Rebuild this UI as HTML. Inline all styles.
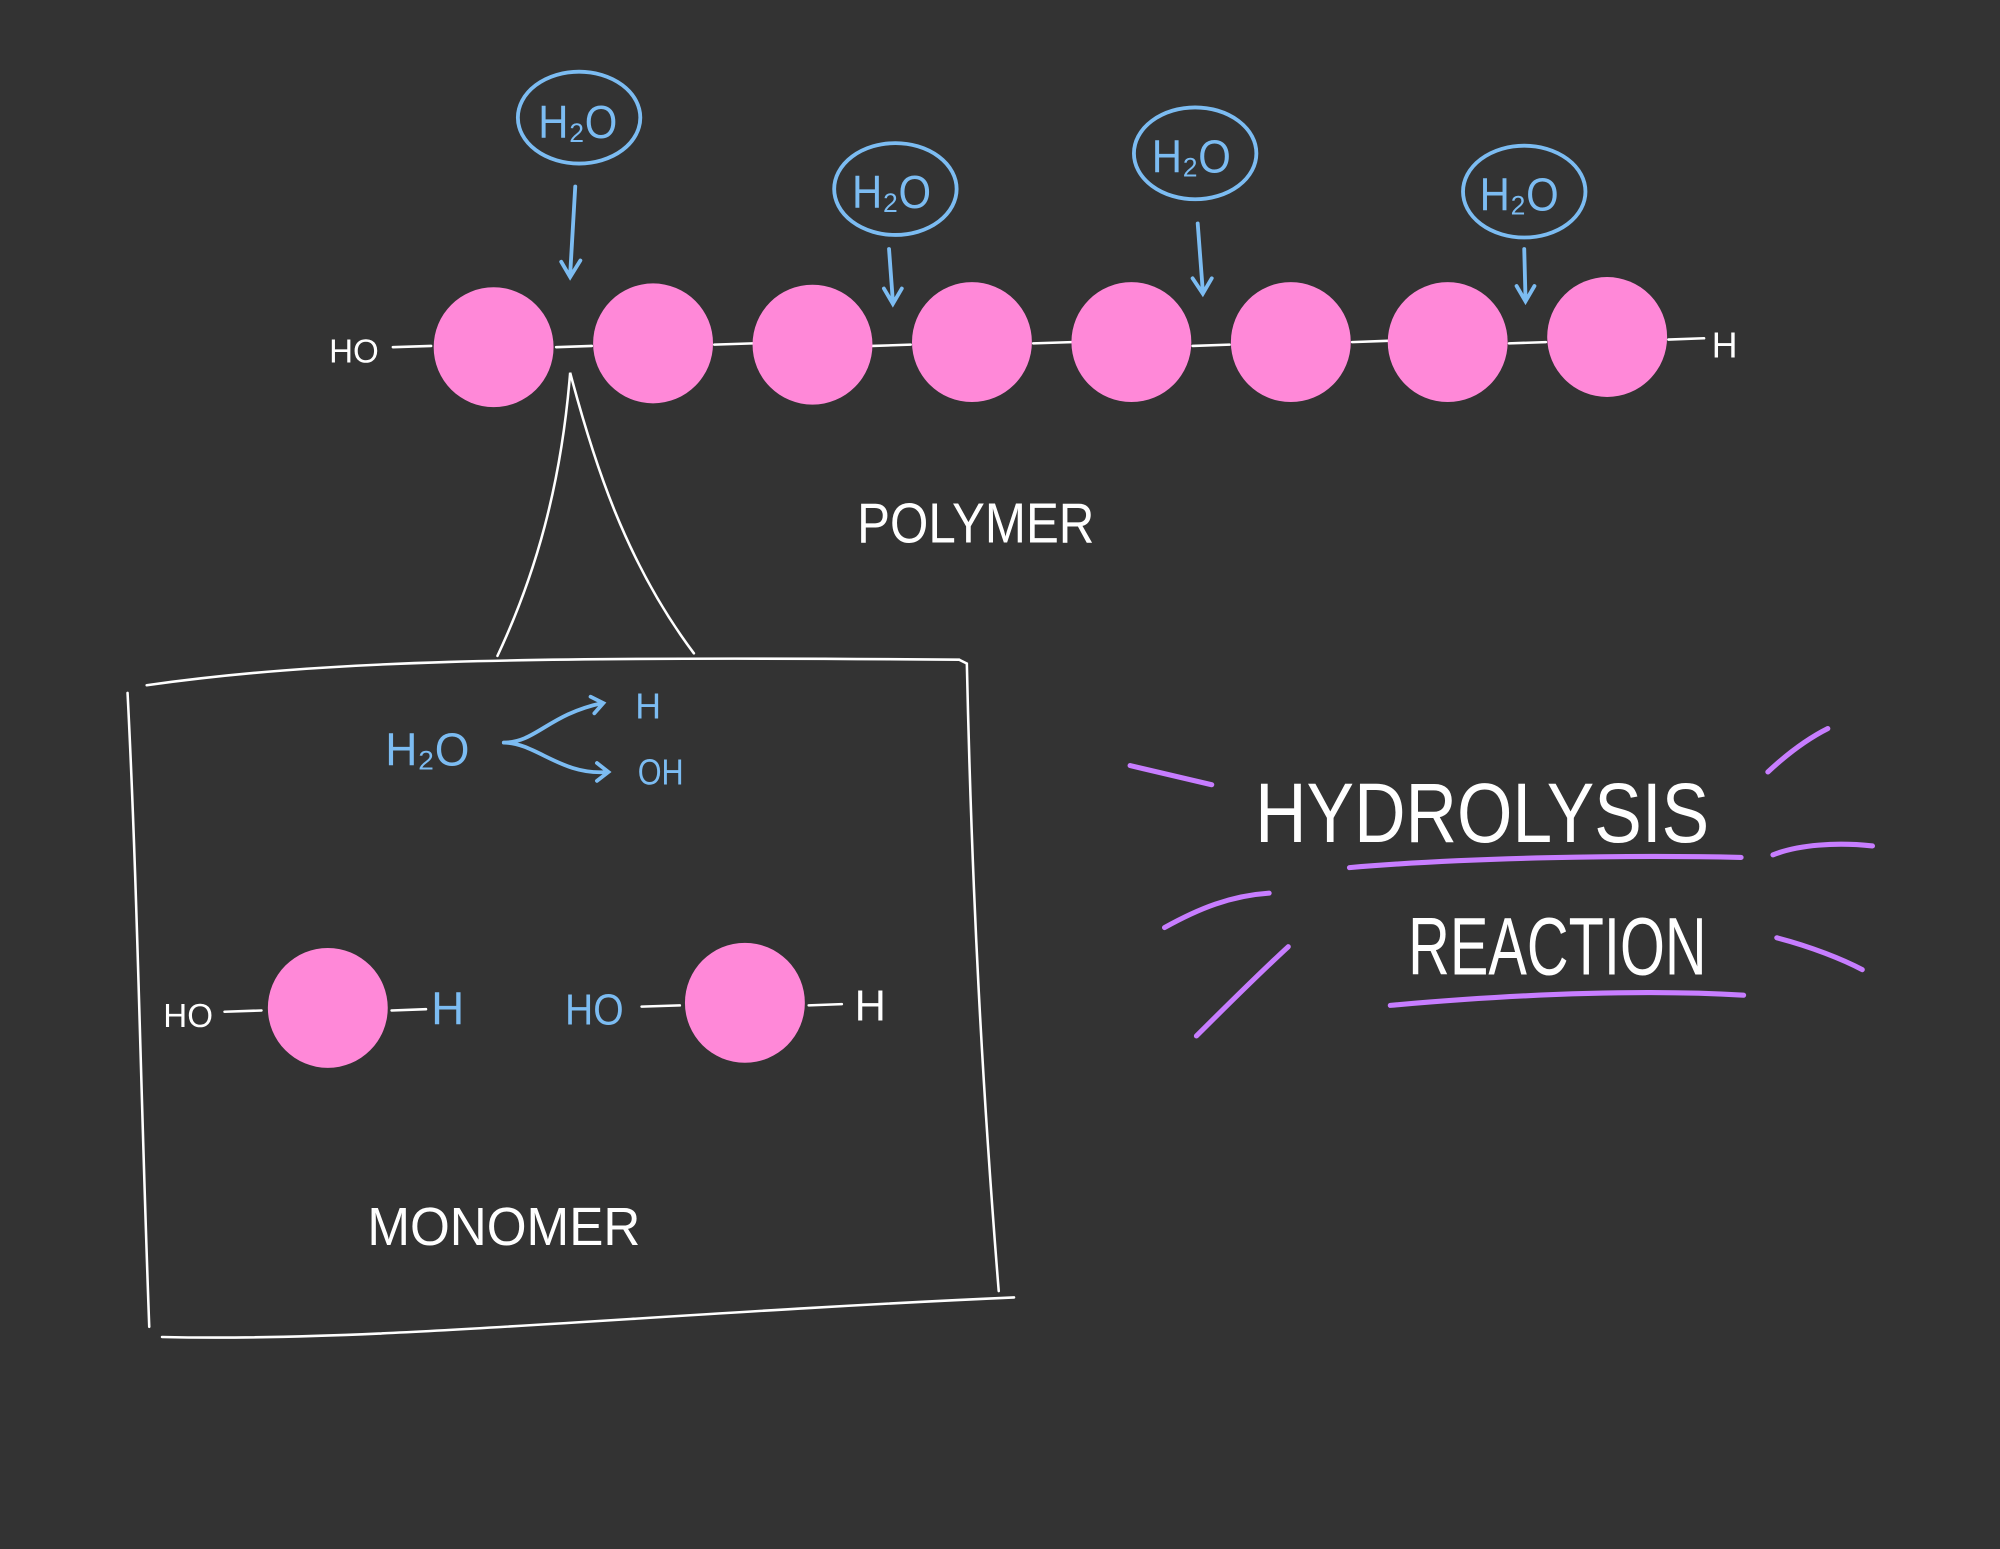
<!DOCTYPE html>
<html><head><style>
html,body{margin:0;padding:0;background:#333333;}
svg{display:block}
text{font-family:"Liberation Sans",sans-serif;}
</style></head><body>
<svg width="2000" height="1549" viewBox="0 0 1568 1214" xmlns="http://www.w3.org/2000/svg">
<rect width="1568" height="1214" fill="#333333"/>
<g stroke="#ffffff" stroke-width="2" fill="none" stroke-linecap="round">
<line x1="308" y1="272" x2="338" y2="271"/>
<line x1="436" y1="272" x2="464" y2="271"/>
<line x1="560" y1="270" x2="590" y2="269"/>
<line x1="684" y1="271" x2="714" y2="270"/>
<line x1="810" y1="269" x2="840" y2="268"/>
<line x1="935" y1="271" x2="964" y2="270"/>
<line x1="1060" y1="268" x2="1088" y2="267"/>
<line x1="1183" y1="269" x2="1212" y2="268"/>
<line x1="1308" y1="266" x2="1336" y2="265"/>
<path d="M390 514 C420 450 440 380 447 292 C465 360 490 440 544 512"/>
<path d="M115 537 C250 518 400 514 752 517"/>
<path d="M752 517 L758 520 C762 700 770 850 783 1012"/>
<path d="M100 543 C108 700 110 850 117 1040"/>
<path d="M127 1048 C300 1052 500 1030 795 1017"/>
<line x1="176" y1="793" x2="205" y2="792"/>
<line x1="307" y1="792" x2="334" y2="791"/>
<line x1="503" y1="789" x2="533" y2="788"/>
<line x1="634" y1="788" x2="660" y2="787"/>
</g>
<g fill="#ff88d8">
<circle cx="387" cy="272" r="47"/><circle cx="512" cy="269" r="47"/>
<circle cx="637" cy="270" r="47"/><circle cx="762" cy="268" r="47"/>
<circle cx="887" cy="268" r="47"/><circle cx="1012" cy="268" r="47"/>
<circle cx="1135" cy="268" r="47"/><circle cx="1260" cy="264" r="47"/>
<circle cx="257" cy="790" r="47"/><circle cx="584" cy="786" r="47"/>
</g>
<g stroke="#7cbcf2" stroke-width="3" fill="none" stroke-linecap="round">
<ellipse cx="454" cy="92" rx="48" ry="36"/>
<ellipse cx="702" cy="148" rx="48" ry="36"/>
<ellipse cx="937" cy="120" rx="48" ry="36"/>
<ellipse cx="1195" cy="150" rx="48" ry="36"/>
<path d="M451 146 L447 215 M440 205 L447 217 L455 204"/>
<path d="M697 195 L700 236 M693 226 L700 238 L707 226"/>
<path d="M939 175 L943 228 M935 218 L943 230 L950 218"/>
<path d="M1195 195 L1196 234 M1189 224 L1196 236 L1203 224"/>
<path d="M395 582 C420 582 430 560 472 551 M463 546 L473 551 L466 559"/>
<path d="M395 582 C420 582 440 608 476 605 M468 598 L477 605 L468 612"/>
</g>
<g fill="#7cbcf2" font-size="36">
<text x="422" y="108" textLength="62" lengthAdjust="spacingAndGlyphs">H₂O</text>
<text x="668" y="163" textLength="62" lengthAdjust="spacingAndGlyphs">H₂O</text>
<text x="903" y="135" textLength="62" lengthAdjust="spacingAndGlyphs">H₂O</text>
<text x="1160" y="165" textLength="62" lengthAdjust="spacingAndGlyphs">H₂O</text>
<text x="302" y="600" textLength="66" lengthAdjust="spacingAndGlyphs">H₂O</text>
<text x="498" y="563" font-size="28">H</text>
<text x="500" y="615" font-size="28" textLength="36" lengthAdjust="spacingAndGlyphs">OH</text>
<text x="338" y="803" font-size="36">H</text>
<text x="443" y="803" font-size="34" textLength="46" lengthAdjust="spacingAndGlyphs">HO</text>
</g>
<g fill="#ffffff">
<text x="258" y="284" font-size="26">HO</text>
<text x="1342" y="280" font-size="28">H</text>
<text x="128" y="805" font-size="26">HO</text>
<text x="670" y="800" font-size="34">H</text>
<text x="672" y="425" font-size="44" textLength="186" lengthAdjust="spacingAndGlyphs">POLYMER</text>
<text x="288" y="976" font-size="42" textLength="214" lengthAdjust="spacingAndGlyphs">MONOMER</text>
<text x="984" y="660" font-size="66" textLength="356" lengthAdjust="spacingAndGlyphs">HYDROLYSIS</text>
<text x="1104" y="764" font-size="64" textLength="234" lengthAdjust="spacingAndGlyphs">REACTION</text>
</g>
<g stroke="#c77dff" stroke-width="4" fill="none" stroke-linecap="round">
<path d="M1058 680 C1150 672 1280 670 1365 672"/>
<path d="M1090 788 C1180 780 1280 775 1367 780"/>
<path d="M886 600 L950 615"/>
<path d="M913 727 C940 712 965 702 995 700"/>
<path d="M938 812 C960 790 985 765 1010 742"/>
<path d="M1386 605 C1400 592 1415 580 1433 571"/>
<path d="M1390 670 C1410 662 1440 660 1468 663"/>
<path d="M1393 735 C1420 742 1445 752 1460 760"/>
</g>
</svg>
</body></html>
